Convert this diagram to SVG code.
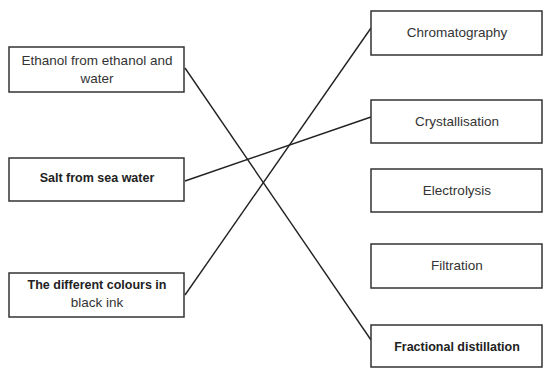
<svg xmlns="http://www.w3.org/2000/svg" width="544" height="369" viewBox="0 0 544 369">
<style>
.box{fill:#fff;stroke:#333;stroke-width:1.5}
.t{font-family:"Liberation Sans",Arial,sans-serif;font-size:13.5px;fill:#333;text-anchor:middle}
.b{font-size:12.5px;font-weight:bold;fill:#222}
.c{stroke:#222;stroke-width:1.4;fill:none}
</style>
<rect width="544" height="369" fill="#fff"/>
<g id="connectors">
<line class="c" x1="185" y1="68" x2="371" y2="340"/>
<line class="c" x1="185" y1="181" x2="371" y2="117"/>
<line class="c" x1="185" y1="295" x2="371" y2="28"/>
</g>
<g id="n-ethanol"><rect class="box" x="9" y="47" width="175" height="45"/><text class="t" x="97" y="65">Ethanol from ethanol and</text><text class="t" x="97" y="83">water</text></g>
<g id="n-salt"><rect class="box" x="9" y="158" width="175" height="43"/><text class="t b" x="97" y="182">Salt from sea water</text></g>
<g id="n-colours"><rect class="box" x="9" y="273" width="175" height="44"/><text class="t b" x="97" y="289">The different colours in</text><text class="t" x="97" y="307">black ink</text></g>
<g id="n-chrom"><rect class="box" x="371" y="11" width="171" height="44"/><text class="t" x="457" y="37">Chromatography</text></g>
<g id="n-cryst"><rect class="box" x="371" y="100" width="171" height="43"/><text class="t" x="457" y="126">Crystallisation</text></g>
<g id="n-electro"><rect class="box" x="371" y="169" width="171" height="43"/><text class="t" x="457" y="195">Electrolysis</text></g>
<g id="n-filt"><rect class="box" x="371" y="244" width="171" height="44"/><text class="t" x="457" y="270">Filtration</text></g>
<g id="n-frac"><rect class="box" x="371" y="325" width="171" height="42"/><text class="t b" x="457" y="351">Fractional distillation</text></g>
</svg>
